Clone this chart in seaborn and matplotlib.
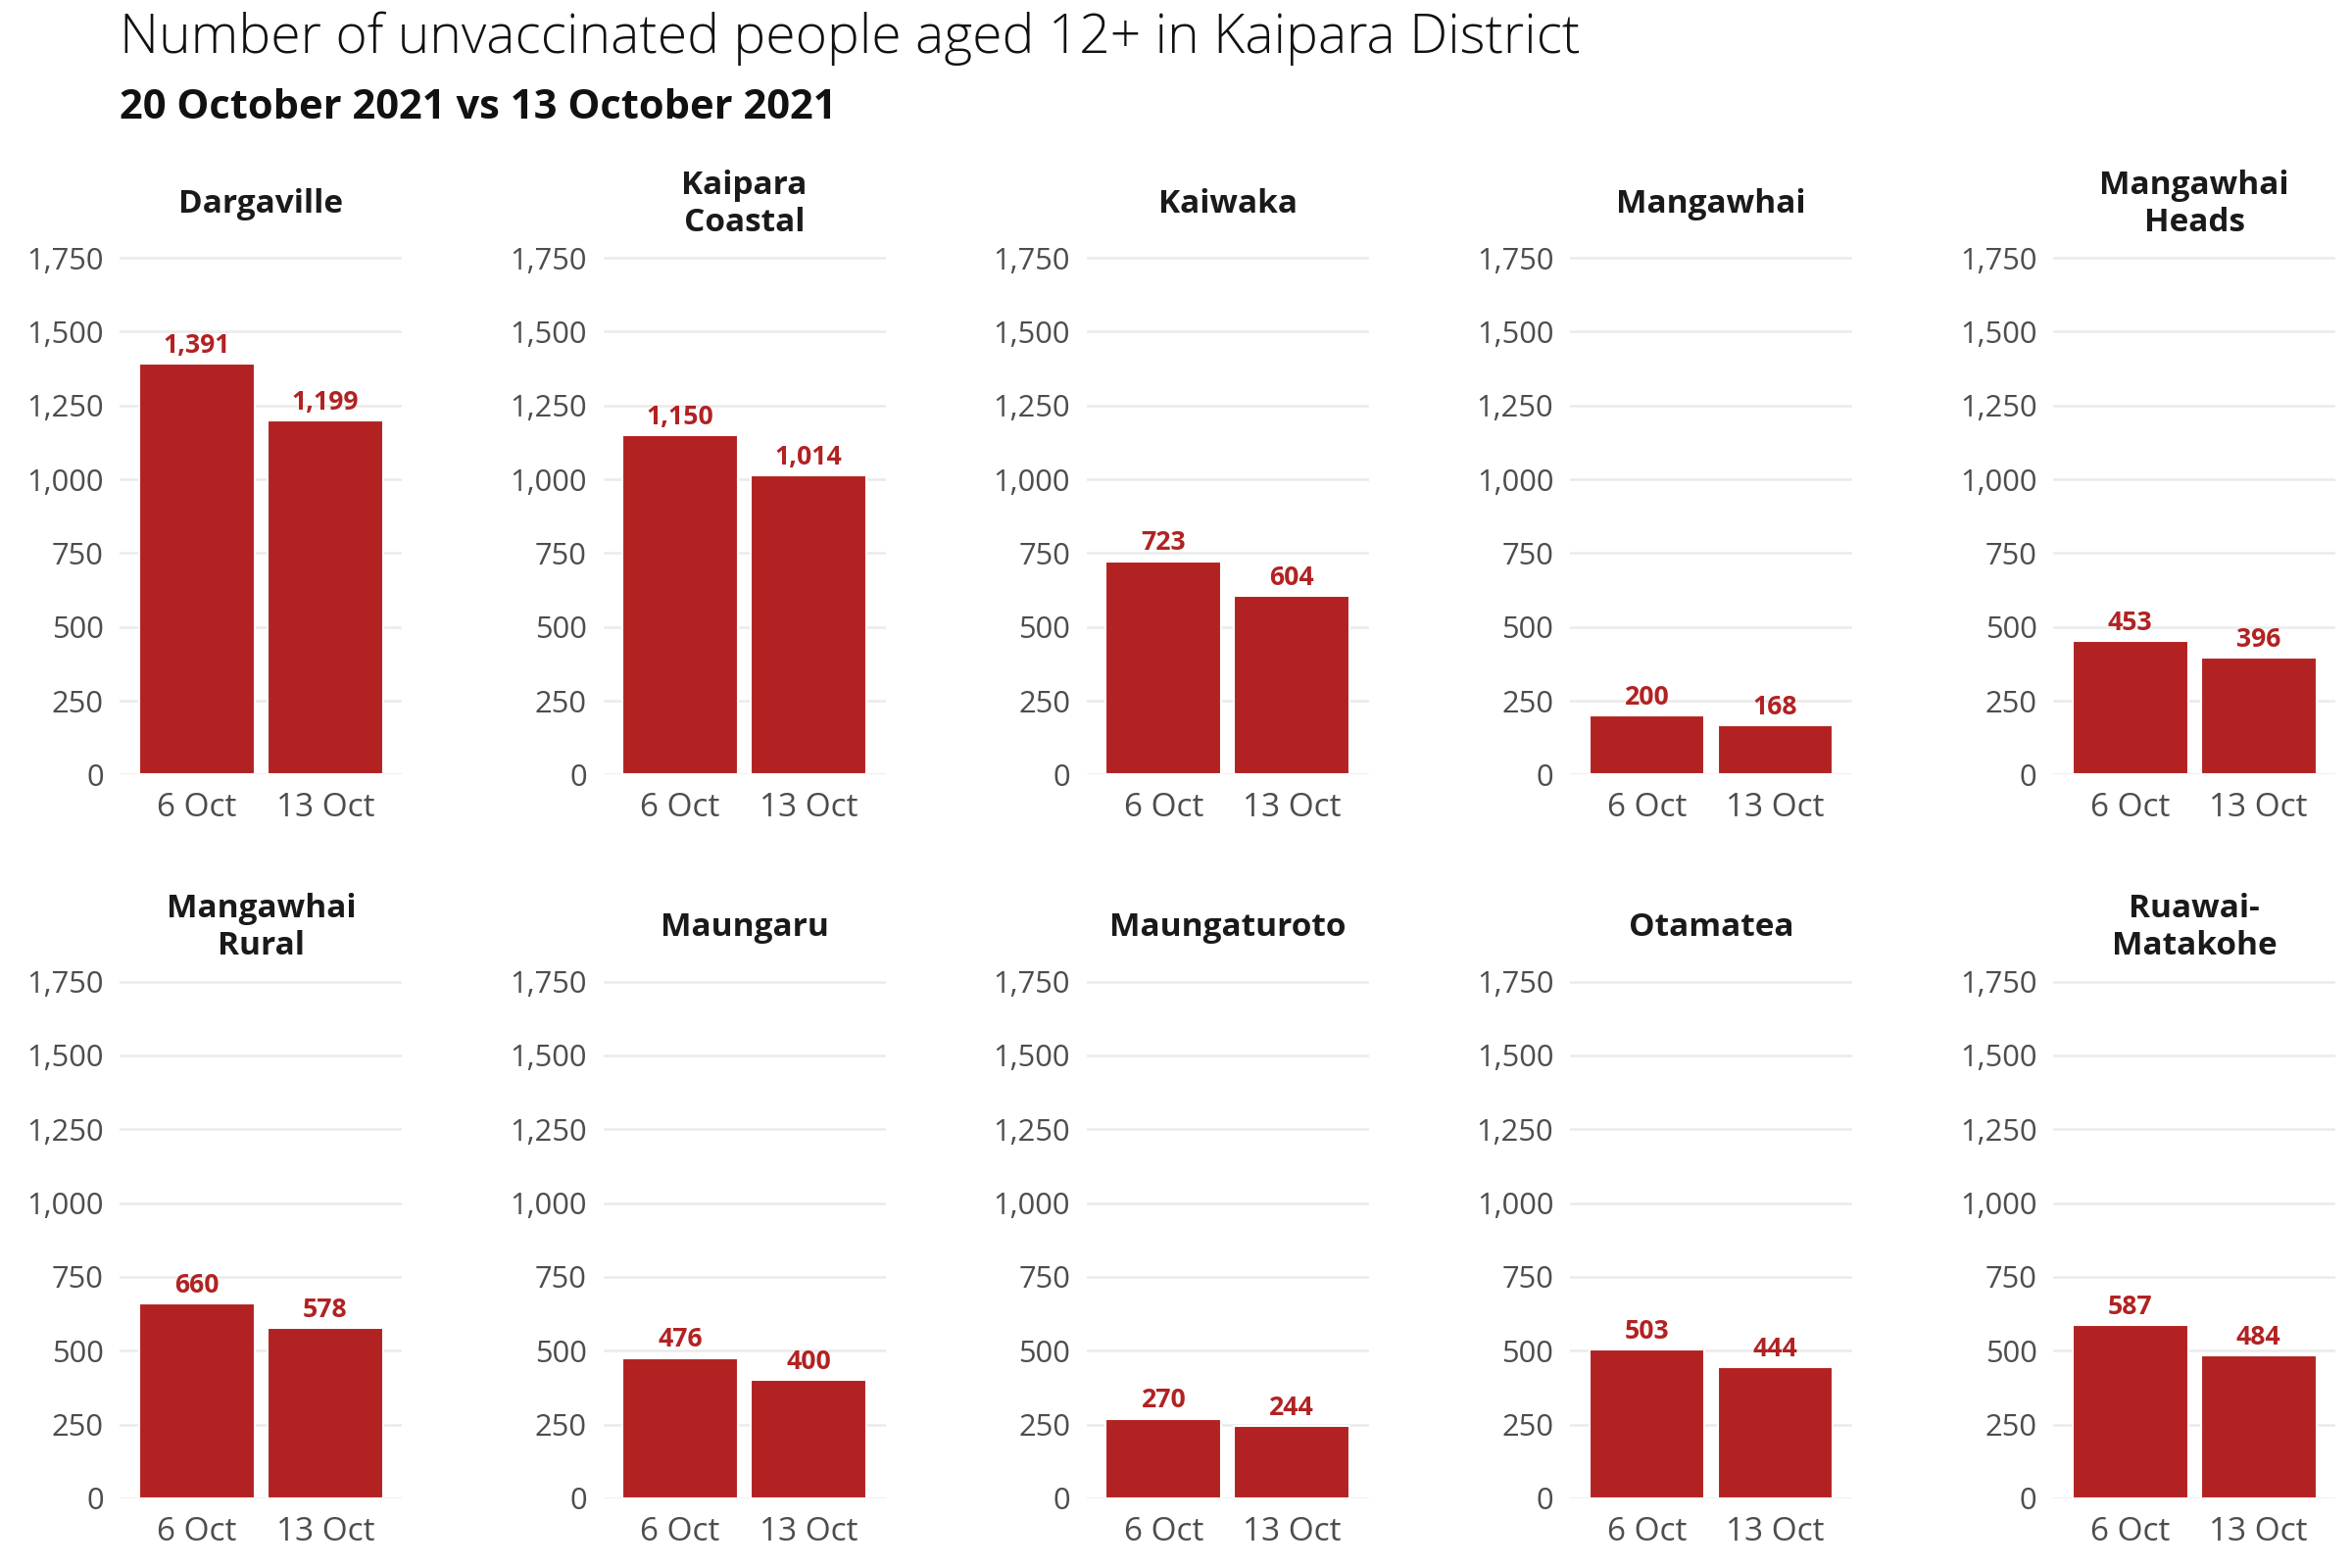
import seaborn as sns
import pandas as pd
import matplotlib.pyplot as plt

# data
areas = ["Dargaville", "Kaipara\nCoastal", "Kaiwaka", "Mangawhai", "Mangawhai\nHeads",
         "Mangawhai\nRural", "Maungaru", "Maungaturoto", "Otamatea", "Ruawai-\nMatakohe"]
dates = ["6 Oct", "13 Oct"]
oct6 = [1391, 1150, 723, 200, 453, 660, 476, 270, 503, 587]
oct13 = [1199, 1014, 604, 168, 396, 578, 400, 244, 444, 484]
yticks = [0, 250, 500, 750, 1000, 1250, 1500, 1750]

sns.set_style("white")
plt.rcParams["font.family"] = ["Open Sans", "DejaVu Sans"]

red = "#B22222"
fig = plt.figure(figsize=(16, 16 / 1.5), dpi=150)

fig.text(0.051, 0.993, "Number of unvaccinated people aged 12+ in Kaipara District",
         fontsize=26.5, fontweight="light", color="#111111", va="top")
fig.text(0.051, 0.944, "20 October 2021 vs 13 October 2021",
         fontsize=20, fontweight="bold", color="#111111", va="top")

for i, area in enumerate(areas):
    row, col = divmod(i, 5)
    left = 0.051 + col * 0.2055
    bottom = 0.506 if row == 0 else 0.0444
    ax = fig.add_axes([left, bottom, 0.12, 0.339])
    df = pd.DataFrame({"date": dates, "n": [oct6[i], oct13[i]]})
    sns.barplot(data=df, x="date", y="n", color=red, saturation=1, width=0.9, ax=ax, zorder=2)
    for j, v in enumerate(df["n"]):
        ax.annotate(f"{v:,}", (j, v), xytext=(0, 2.5), textcoords="offset points",
                    ha="center", va="bottom", color=red, fontsize=12.8, fontweight="bold")
    ax.set_ylim(0, 1800)
    ax.set_xlim(-0.6, 1.6)
    ax.set_yticks(yticks)
    ax.set_yticklabels([f"{t:,}" for t in yticks])
    ax.yaxis.grid(True, color="#EBEBEB", linewidth=1.2, zorder=0)
    ax.set_axisbelow(True)
    ax.tick_params(axis="x", length=0, labelsize=16, labelcolor="#4D4D4D", pad=8.5)
    ax.tick_params(axis="y", length=0, labelsize=14.8, labelcolor="#4D4D4D", pad=8)
    ax.set_xlabel("")
    ax.set_ylabel("")
    sns.despine(ax=ax, left=True, bottom=True)
    ax.text(0.5, 1.073, area, transform=ax.transAxes, ha="center", va="center",
            fontsize=16, fontweight="bold", color="#1A1A1A", linespacing=1.2)

fig.savefig("out.png", dpi=150, facecolor="white")
